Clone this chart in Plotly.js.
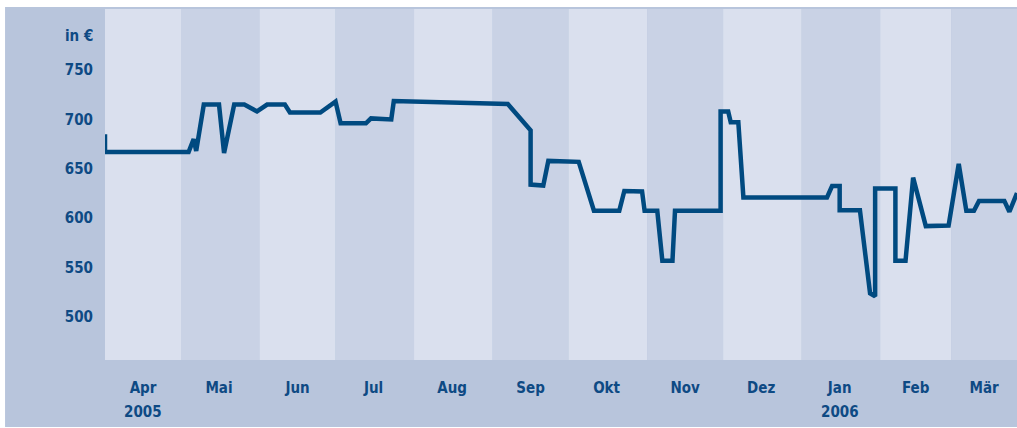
<!DOCTYPE html>
<html>
<head>
<meta charset="utf-8">
<script src="https://cdn.plot.ly/plotly-3.0.1.min.js"></script>
<style>
  html, body { margin: 0; padding: 0; background: #ffffff; }
  #chart { width: 1017px; height: 428px; }
</style>
</head>
<body>
<div id="chart"></div>
<script>
// ---- data ----
const dates = [
  '2005-04-01','2005-04-01','2005-05-04','2005-05-06','2005-05-07','2005-05-10','2005-05-16','2005-05-18',
  '2005-05-22','2005-05-26','2005-05-31','2005-06-04','2005-06-11','2005-06-13','2005-06-25','2005-07-01',
  '2005-07-03','2005-07-13','2005-07-15','2005-07-23','2005-07-24','2005-09-07','2005-09-16','2005-09-16',
  '2005-09-21','2005-09-23','2005-10-05','2005-10-11','2005-10-21','2005-10-23','2005-10-30','2005-10-31',
  '2005-11-05','2005-11-07','2005-11-11','2005-11-12','2005-11-30','2005-11-30','2005-12-03','2005-12-04',
  '2005-12-07','2005-12-09','2006-01-11','2006-01-13','2006-01-16','2006-01-16','2006-01-24','2006-01-28',
  '2006-01-30','2006-01-30','2006-02-07','2006-02-07','2006-02-11','2006-02-14','2006-02-19','2006-02-28',
  '2006-03-04','2006-03-07','2006-03-10','2006-03-12','2006-03-22','2006-03-24','2006-03-27'
];
const prices = [
  685, 667, 667, 680, 668, 715, 715, 666,
  715, 715, 708, 715, 715, 707, 707, 718,
  696, 696, 701, 700, 718.5, 715.5, 689, 634,
  633, 658, 657, 607.5, 607.5, 627.5, 627, 607.5,
  607.5, 557, 557, 607.5, 607.5, 708, 708, 697,
  697, 621, 621, 632.5, 632.5, 608, 608, 524,
  521, 630, 630, 557, 557, 641, 592, 592.5,
  655, 607.5, 607.5, 617.5, 617.5, 606.5, 625.5
];
const monthStarts = ['2005-04-01','2005-05-01','2005-06-01','2005-07-01','2005-08-01','2005-09-01',
  '2005-10-01','2005-11-01','2005-12-01','2006-01-01','2006-02-01','2006-03-01','2006-04-01'];
const monthMids = ['2005-04-16','2005-05-16','2005-06-16','2005-07-16','2005-08-16','2005-09-16',
  '2005-10-16','2005-11-16','2005-12-16','2006-01-16','2006-02-15','2006-03-14'];
const monthLabels = ['Apr','Mai','Jun','Jul','Aug','Sep','Okt','Nov','Dez','Jan','Feb','Mär'];
const yearLabels = [{date: '2005-04-16', text: '2005'}, {date: '2006-01-16', text: '2006'}];
const yTicks = [500, 550, 600, 650, 700, 750];
const unitLabel = 'in €';

// ---- styles ----
const TXT = '#0e4a84';
const FONT = '"Liberation Sans Narrow", "Arial Narrow", "DejaVu Sans Condensed", sans-serif';
const LIGHT = '#dae0ee', DARK = '#c9d2e5', OUTER = '#b8c5dc';

const shapes = [{
  type: 'rect', xref: 'paper', yref: 'paper', layer: 'below',
  x0: -0.1096, x1: 1.0, y0: -0.1909, y1: 1.0057,
  fillcolor: OUTER, line: {width: 0}
}];
for (let i = 0; i < monthStarts.length - 1; i++) {
  shapes.push({
    type: 'rect', xref: 'x', yref: 'paper', layer: 'below',
    x0: monthStarts[i], x1: monthStarts[i + 1], y0: 0, y1: 1,
    fillcolor: i % 2 === 0 ? LIGHT : DARK, line: {width: 0}
  });
}

const annotations = yearLabels.map(y => ({
  x: y.date, xref: 'x', y: -0.149, yref: 'paper', text: '<b>' + y.text + '</b>',
  showarrow: false, xanchor: 'center', yanchor: 'middle',
  font: {family: FONT, size: 15, color: TXT}
}));
annotations.push({
  x: -0.011, xref: 'paper', y: 0.923, yref: 'paper', text: '<b>' + unitLabel + '</b>',
  showarrow: false, xanchor: 'right', yanchor: 'middle',
  font: {family: FONT, size: 15, color: TXT}
});

const trace = {
  x: dates, y: prices, type: 'scatter', mode: 'lines',
  line: {color: '#004a80', width: 4.5},
  hoverinfo: 'skip'
};

const layout = {
  width: 1017, height: 428,
  margin: {l: 105, r: 0, t: 9, b: 68, pad: 0},
  paper_bgcolor: '#ffffff',
  plot_bgcolor: 'rgba(0,0,0,0)',
  showlegend: false,
  xaxis: {
    type: 'date',
    range: ['2005-04-01', '2006-03-27'],
    showgrid: false, zeroline: false, showline: false,
    tickmode: 'array', tickvals: monthMids,
    ticktext: monthLabels.map(m => '<b>' + m + '</b>'),
    ticks: 'outside', ticklen: 14, tickcolor: 'rgba(0,0,0,0)',
    tickfont: {family: FONT, size: 15, color: TXT},
    fixedrange: true
  },
  yaxis: {
    range: [456.5, 811.7],
    showgrid: false, zeroline: false, showline: false,
    tickmode: 'array', tickvals: yTicks,
    ticktext: yTicks.map(v => '<b>' + v + '</b>'),
    ticks: 'outside', ticklen: 8, tickcolor: 'rgba(0,0,0,0)',
    tickfont: {family: FONT, size: 15, color: TXT},
    fixedrange: true
  },
  shapes: shapes,
  annotations: annotations
};

Plotly.newPlot('chart', [trace], layout, {displayModeBar: false, staticPlot: true});
</script>
</body>
</html>
